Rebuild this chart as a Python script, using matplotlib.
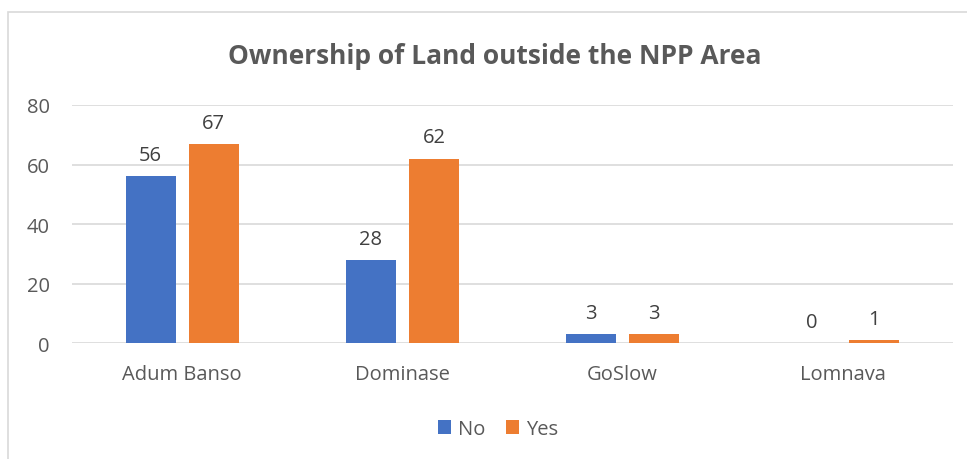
import numpy as np
import matplotlib.pyplot as plt
from matplotlib.patches import Rectangle

categories = ['Adum Banso', 'Dominase', 'GoSlow', 'Lomnava']
no_vals = [56, 28, 3, 0]
yes_vals = [67, 62, 3, 1]
yticks = [0, 20, 40, 60, 80]

plt.rcParams['font.family'] = ['Open Sans', 'DejaVu Sans']
grey = '#595959'
blue = '#4472c4'
orange = '#ed7d31'

fig = plt.figure(figsize=(9.67, 4.60), dpi=100)
ax = fig.add_axes([0.0745, 0.252, 0.911, 0.5176])

# chart frame (runs off the right/bottom of the image)
fig.patches.append(Rectangle((8 / 967, -0.1), 1.2, 1 - 13 / 460 + 0.1,
                             transform=fig.transFigure, fill=False,
                             edgecolor='#d9d9d9', linewidth=1.2, zorder=0))

x = np.arange(len(categories))
w = 0.227
off = 0.143
b1 = ax.bar(x - off, no_vals, w, color=blue, label='No', zorder=3)
b2 = ax.bar(x + off, yes_vals, w, color=orange, label='Yes', zorder=3)

for bars, vals in [(b1, no_vals), (b2, yes_vals)]:
    for r, v in zip(bars, vals):
        ax.annotate(str(v), (r.get_x() + r.get_width() / 2, v),
                    xytext=(0, 8), textcoords='offset points',
                    ha='center', va='bottom', fontsize=14.5, color='#404040')

ax.set_xlim(-0.5, len(categories) - 0.5)
ax.set_ylim(0, 80)
ax.set_yticks(yticks)
ax.set_xticks(x)
ax.set_xticklabels(categories)
ax.tick_params(length=0, labelsize=14.5, colors=grey)
ax.tick_params(axis='y', pad=16)
ax.tick_params(axis='x', pad=15)
ax.yaxis.grid(True, color='#d9d9d9', linewidth=1.2, zorder=0)
for s in ax.spines.values():
    s.set_visible(False)

fig.text(0.512, 0.878, 'Ownership of Land outside the NPP Area', ha='center',
         va='center', fontsize=19, fontweight='bold', color=grey)

fig.legend(handles=[b1, b2], labels=['No', 'Yes'], loc='center',
           bbox_to_anchor=(0.515, 0.065), ncol=2, frameon=False,
           fontsize=14.5, labelcolor=grey, handlelength=0.65, handleheight=0.65,
           handletextpad=0.35, columnspacing=1.0)

fig.savefig('out.png', dpi=100)
